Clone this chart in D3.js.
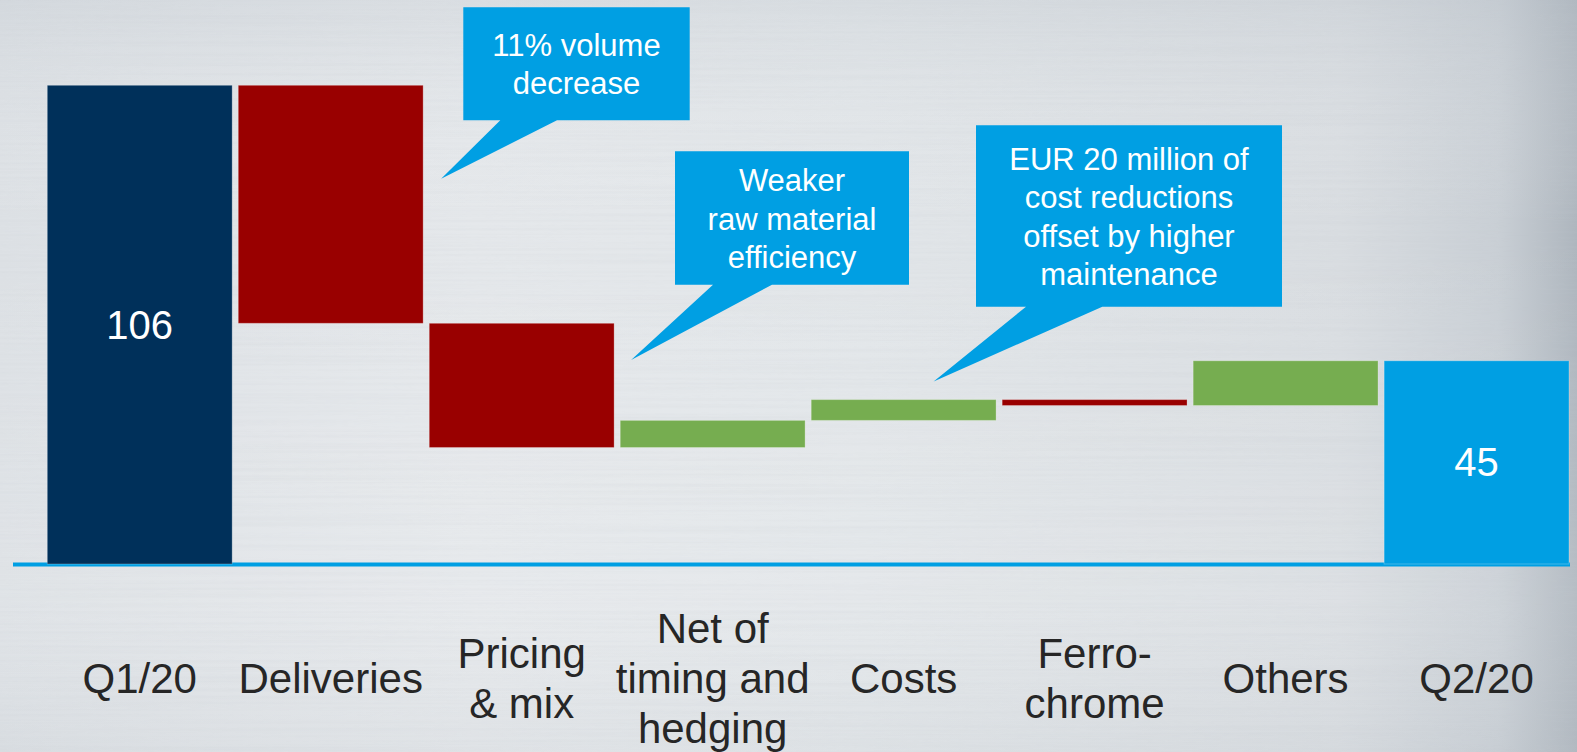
<!DOCTYPE html>
<html>
<head>
<meta charset="utf-8">
<script src="https://cdn.jsdelivr.net/npm/d3@7"></script>
<style>
  html, body { margin: 0; padding: 0; overflow: hidden; }
  body { width: 1577px; height: 752px; }
  svg { display: block; font-family: "Liberation Sans", Arial, sans-serif; }
</style>
</head>
<body>
<div id="chart"></div>
<script>
// waterfall: Q1/20 -> Q2/20
var categories = ["Q1/20", "Deliveries", "Pricing\n& mix", "Net of\ntiming and\nhedging", "Costs", "Ferro-\nchrome", "Others", "Q2/20"];
var values = [106, -52.7, -27.5, 6, 4.6, -1.3, 9.9, 45];
var kinds = ["start", "delta", "delta", "delta", "delta", "delta", "delta", "end"];

// callouts: text lines, which bar the pointer goes to, pointer value level
var noteLines = [["11% volume", "decrease"], ["Weaker", "raw material", "efficiency"], ["EUR 20 million of", "cost reductions", "offset by higher", "maintenance"]];
var noteTarget = ["Deliveries", "Pricing\n& mix", "Costs"];
var noteLevel = [85.3, 45.2, 40.4];

var width = 1577, height = 752;

var svg = d3.select("#chart").append("svg")
    .attr("width", width)
    .attr("height", height);

// ---- brushed metal background ----
var defs = svg.append("defs");
var bg = defs.append("linearGradient").attr("id", "bgH").attr("x1", 0).attr("x2", 1).attr("y1", 0).attr("y2", 0);
[[0, "#dde1e5"], [0.3, "#e5e8eb"], [0.55, "#e2e6e9"], [0.85, "#d9dde1"], [0.95, "#c9cfd5"], [1, "#aeb6be"]].forEach(function (s) {
  bg.append("stop").attr("offset", s[0]).attr("stop-color", s[1]);
});
var bgV = defs.append("linearGradient").attr("id", "bgV").attr("x1", 0).attr("x2", 0).attr("y1", 0).attr("y2", 1);
[[0, "#b8c0c8", 0.25], [0.3, "#ffffff", 0], [0.8, "#ffffff", 0.1], [1, "#c0c6cc", 0.15]].forEach(function (s) {
  bgV.append("stop").attr("offset", s[0]).attr("stop-color", s[1]).attr("stop-opacity", s[2]);
});
var brush = defs.append("filter").attr("id", "brush").attr("x", 0).attr("y", 0).attr("width", 1).attr("height", 1);
brush.append("feTurbulence").attr("type", "fractalNoise").attr("baseFrequency", "0.002 0.35").attr("numOctaves", 2).attr("seed", 3);
brush.append("feColorMatrix").attr("type", "matrix")
  .attr("values", "0 0 0 0 0.55  0 0 0 0 0.58  0 0 0 0 0.62  0 0 0 -1.4 0.9");

svg.append("rect").attr("width", width).attr("height", height).attr("fill", "url(#bgH)");
svg.append("rect").attr("width", width).attr("height", height).attr("fill", "url(#bgV)");
svg.append("rect").attr("width", width).attr("height", height).attr("filter", "url(#brush)").attr("opacity", 0.18);

// ---- scales ----
var x = d3.scaleBand()
    .domain(categories)
    .range([47.3, 1569])
    .paddingInner(0.032)
    .paddingOuter(0);

var y = d3.scaleLinear()
    .domain([0, 106])
    .range([564, 85.3]);

// running totals
var running = 0;
var bars = categories.map(function (c, i) {
  var v = values[i], lo, hi;
  if (kinds[i] === "delta") {
    lo = running; hi = running + v; running = hi;
  } else {
    lo = 0; hi = v; running = v;
  }
  return { cat: c, value: v, kind: kinds[i], y0: Math.min(lo, hi), y1: Math.max(lo, hi) };
});

function barColor(d) {
  if (d.kind === "start") return "#00305a";
  if (d.kind === "end") return "#009fe3";
  return d.value < 0 ? "#990000" : "#76ad50";
}

// axis line
svg.append("line")
    .attr("x1", 13).attr("x2", 1570)
    .attr("y1", y(0) + 0.5).attr("y2", y(0) + 0.5)
    .attr("stroke", "#009fe3").attr("stroke-width", 4);

svg.append("g").selectAll("rect").data(bars).enter().append("rect")
    .attr("x", function (d) { return x(d.cat); })
    .attr("width", x.bandwidth())
    .attr("y", function (d) { return y(d.y1); })
    .attr("height", function (d) { return Math.max(1, y(d.y0) - y(d.y1)); })
    .attr("fill", barColor)
    .attr("stroke", "rgba(255,255,255,0.25)")
    .attr("stroke-width", 1);

// totals labels in the middle of the bar
svg.append("g").selectAll("text").data(bars.filter(function (d) { return d.kind !== "delta"; })).enter().append("text")
    .attr("x", function (d) { return x(d.cat) + x.bandwidth() / 2; })
    .attr("y", function (d) { return (y(d.y0) + y(d.y1)) / 2 + 14; })
    .attr("text-anchor", "middle")
    .attr("fill", "#ffffff")
    .style("font-size", "40px")
    .text(function (d) { return d3.format("d")(d.value); });

// category labels, centred around one baseline
var catG = svg.append("g").selectAll("text").data(categories).enter().append("text")
    .attr("text-anchor", "middle")
    .attr("fill", "#262626")
    .style("font-size", "42px");
catG.each(function (c) {
  var lines = c.split("\n");
  var t = d3.select(this);
  lines.forEach(function (l, k) {
    t.append("tspan")
      .attr("x", x(c) + x.bandwidth() / 2)
      .attr("y", 692.5 + (k - (lines.length - 1) / 2) * 50)
      .text(l);
  });
});

// ---- callouts ----
var boxes = [[463.3, 7.3, 689.7, 120.3], [675, 151.3, 909, 284.7], [976, 125.3, 1282, 306.7]];
var tailBase = [[500.3, 557], [713, 772], [1026, 1102.3]];
var tipDx = [x.bandwidth() + 18, x.bandwidth() + 17, x.bandwidth() / 2 + 30];

var notes = svg.append("g").selectAll("g").data(noteLines).enter().append("g");
notes.append("path")
    .attr("fill", "#009fe3")
    .attr("d", function (d, i) {
      var b = boxes[i], tb = tailBase[i];
      var tx = x(noteTarget[i]) + tipDx[i], ty = y(noteLevel[i]);
      return "M" + b[0] + "," + b[1] + "H" + b[2] + "V" + b[3] + "H" + tb[1] +
        "L" + tx + "," + ty + "L" + tb[0] + "," + b[3] + "H" + b[0] + "Z";
    });
notes.append("text")
    .attr("text-anchor", "middle")
    .attr("fill", "#ffffff")
    .style("font-size", "31px")
    .each(function (d, i) {
      var b = boxes[i], cy = (b[1] + b[3]) / 2;
      var t = d3.select(this);
      d.forEach(function (l, k) {
        t.append("tspan")
          .attr("x", (b[0] + b[2]) / 2)
          .attr("y", cy + (k - (d.length - 1) / 2) * 38.3 + 11.5)
          .text(l);
      });
    });
</script>
</body>
</html>
